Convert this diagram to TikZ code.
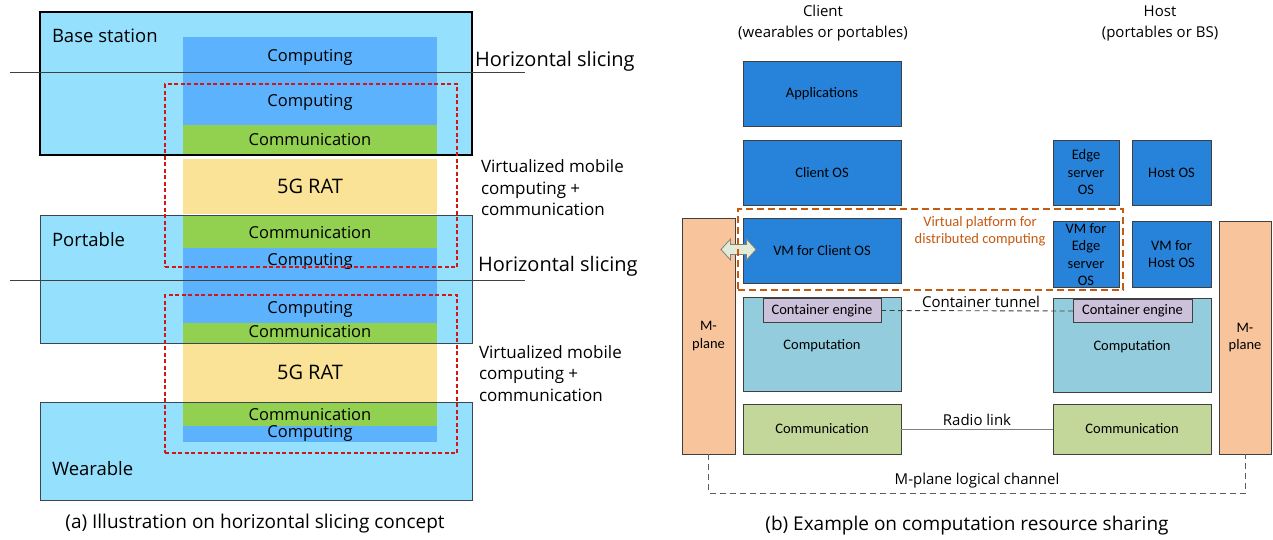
\documentclass[tikz,border=0pt]{standalone}
\usepackage{fontspec}
\setmainfont{Open Sans}
\newfontfamily\calib{Carlito}
\definecolor{tier}{HTML}{95E1FD}
\definecolor{tierbd}{HTML}{3A4655}
\definecolor{compblue}{HTML}{5CB2FC}
\definecolor{commgreen}{HTML}{92D050}
\definecolor{ratyellow}{HTML}{FAE396}
\definecolor{slicered}{HTML}{D01818}
\definecolor{osblue}{HTML}{2683D9}
\definecolor{edgegray}{HTML}{404040}
\definecolor{compcyan}{HTML}{93CDDD}
\definecolor{cepurple}{HTML}{CCC1DA}
\definecolor{commolive}{HTML}{C4D79B}
\definecolor{mpeach}{HTML}{F8C49C}
\definecolor{vporange}{HTML}{C55A11}
\definecolor{arrowfill}{HTML}{E2EBD6}
\begin{document}
\begin{tikzpicture}[x=1pt,y=-1pt,
 every node/.style={inner sep=0pt,outer sep=0pt},
 tierfill/.style={fill=tier,minimum width=432pt},
 colblk/.style={minimum width=254pt},
 ltxt/.style={font=\fontsize{16.5}{19}\selectfont},
 rattxt/.style={font=\fontsize{20}{24}\selectfont},
 tiertxt/.style={font=\fontsize{18.5}{22}\selectfont,anchor=west},
 slicetxt/.style={font=\fontsize{20}{24}\selectfont,anchor=west},
 virttxt/.style={font=\fontsize{17}{21.5}\selectfont,anchor=west,align=left},
 captxt/.style={font=\fontsize{19}{22}\selectfont},
 redbox/.style={draw=slicered,line width=1.3pt,dash pattern=on 4pt off 2.5pt},
 sliceline/.style={draw=edgegray,line width=0.9pt},
 hdrtxt/.style={font=\fontsize{15}{21}\selectfont,align=center},
 rlbl/.style={font=\fontsize{15}{18}\selectfont},
 boxtxt/.style={font=\calib\fontsize{14.5}{17.5}\selectfont,align=center},
 osbox/.style={boxtxt,draw=edgegray,fill=osblue,line width=0.8pt},
 cpbox/.style={boxtxt,draw=edgegray,fill=compcyan,line width=0.8pt,minimum width=158pt,minimum height=94pt},
 cebox/.style={boxtxt,draw=edgegray,fill=cepurple,line width=0.8pt,minimum height=23.5pt},
 cmbox/.style={boxtxt,draw=edgegray,fill=commolive,line width=0.8pt,minimum width=158pt,minimum height=50pt},
 mpbox/.style={boxtxt,draw=edgegray,fill=mpeach,line width=0.8pt},
 vpbox/.style={draw=vporange,line width=1.2pt,dash pattern=on 7pt off 4pt},
 tunnel/.style={draw=edgegray,line width=0.9pt,dash pattern=on 5pt off 3.5pt},
 radio/.style={draw=gray,line width=0.9pt},
 mchan/.style={draw=edgegray!85,line width=0.9pt,dash pattern=on 6pt off 4pt}
]
\useasboundingbox (0,0) rectangle (1273,539);

% ---------------- (a) horizontal slicing ----------------
\node[tierfill,minimum height=143pt] (bs) at (256,83.5) {};
\node[tierfill,minimum height=128pt] (pt) at (256,279) {};
\node[tierfill,minimum height=98pt] (wr) at (256,451) {};

\node[colblk,fill=compblue,minimum height=88pt] (cpa) at (310,81) {};
\node[colblk,fill=commgreen,minimum height=30pt] (cma) at (310,140) {};
\node[colblk,fill=ratyellow,minimum height=55pt] (rta) at (310,186.5) {};
\node[colblk,fill=commgreen,minimum height=33pt] (cmb) at (310,231.5) {};
\node[colblk,fill=compblue,minimum height=75pt] (cpb) at (310,285.5) {};
\node[colblk,fill=commgreen,minimum height=20pt] (cmc) at (310,333) {};
\node[colblk,fill=ratyellow,minimum height=59pt] (rtb) at (310,372.5) {};
\node[colblk,fill=commgreen,minimum height=24pt] (cmd) at (310,414) {};
\node[colblk,fill=compblue,minimum height=16pt] (cpc) at (310,434) {};

\draw[black,line width=1.5pt] (bs.north west) rectangle (bs.south east);
\draw[tierbd,line width=1pt] (pt.north west) rectangle (pt.south east);
\draw[tierbd,line width=1pt] (wr.north west) rectangle (wr.south east);

\node[ltxt] (ta1) at (310,57.5) {Computing};
\node[ltxt] (ta2) at (310,102.5) {Computing};
\node[ltxt] (ta3) at (310,140) {Communication};
\node[rattxt] (ta4) at (310,186.5) {5G RAT};
\node[ltxt] (ta5) at (310,233) {Communication};
\node[ltxt] (ta6) at (310,261.5) {Computing};
\node[ltxt] (ta7) at (310,309.5) {Computing};
\node[ltxt] (ta8) at (310,332) {Communication};
\node[rattxt] (ta9) at (310,372.5) {5G RAT};
\node[ltxt] (ta10) at (310,415) {Communication};
\node[ltxt] (ta11) at (310,433.5) {Computing};

\node[redbox,minimum width=292pt,minimum height=183pt] (vs1) at (311,175.5) {};
\node[redbox,minimum width=292pt,minimum height=158pt] (vs2) at (311,374) {};

\coordinate (sl1a) at (10,72);
\coordinate (sl1b) at (525,72);
\coordinate (sl2a) at (10,280);
\coordinate (sl2b) at (525,280);
\draw[sliceline] (sl1a) -- (sl1b);
\draw[sliceline] (sl2a) -- (sl2b);

\node[tiertxt] (lbs) at (52,35.5) {Base station};
\node[tiertxt] (lpt) at (52,239.5) {Portable};
\node[tiertxt] (lwr) at (52,468.5) {Wearable};

\node[slicetxt] (hs1) at (475,61.5) {Horizontal slicing};
\node[slicetxt] (hs2) at (478,266.5) {Horizontal slicing};

\node[virttxt] (vm1) at (481,188) {Virtualized mobile\\computing +\\communication};
\node[virttxt] (vm2) at (479,373.5) {Virtualized mobile\\computing +\\communication};

\node[captxt] (capa) at (255,524) {(a) Illustration on horizontal slicing concept};

% ---------------- (b) computation resource sharing ----------------
\node[hdrtxt] (hc) at (823,23) {Client\\(wearables or portables)};
\node[hdrtxt] (hh) at (1160,23) {Host\\(portables or BS)};

\node[mpbox,minimum width=53pt,minimum height=236pt] (mpl) at (708.5,336) {M-\\plane};
\node[mpbox,minimum width=52pt,minimum height=233pt] (mpr) at (1245,337.5) {M-\\plane};

\node[osbox,minimum width=158pt,minimum height=65pt] (app) at (822,93.5) {Applications};
\node[osbox,minimum width=158pt,minimum height=65pt] (cos) at (822,172.5) {Client OS};
\node[osbox,minimum width=158pt,minimum height=65pt] (vmc) at (822,250.5) {VM for Client OS};
\node[osbox,minimum width=66pt,minimum height=65pt] (eos) at (1086,172.5) {Edge\\server\\OS};
\node[osbox,minimum width=79pt,minimum height=65pt] (hos) at (1171.5,172.5) {Host OS};
\node[osbox,minimum width=66pt,minimum height=66pt] (vme) at (1086,254) {};
\node[boxtxt] (vmet) at (1086,254.5) {VM for\\Edge\\server\\OS};
\node[osbox,minimum width=79pt,minimum height=66pt] (vmh) at (1171.5,254) {VM for\\Host OS};

\draw[draw=gray,fill=arrowfill,line width=0.8pt]
  (721,249.5) -- (730.5,239) -- (730.5,244.5) -- (746.5,244.5) -- (746.5,239)
  -- (756,249.5) -- (746.5,260) -- (746.5,254.5) -- (730.5,254.5) -- (730.5,260) -- cycle;

\node[vpbox,minimum width=385pt,minimum height=81pt] (vp) at (930.5,249.5) {};
\node[boxtxt,text=vporange] (vpt) at (980,231) {Virtual platform for\\distributed computing};

\node[cpbox] (cpcl) at (822,344) {};
\node[boxtxt] (cpclt) at (822,345.5) {Computation};
\node[cpbox] (cphs) at (1132,345) {};
\node[boxtxt] (cphst) at (1132,346.5) {Computation};
\node[cebox,minimum width=118pt] (cecl) at (822,310.5) {Container engine};
\node[cebox,minimum width=119pt] (cehs) at (1132.5,311) {Container engine};
\draw[tunnel] (cecl.east) -- (cehs.west);
\node[rlbl] (tnl) at (981,302) {Container tunnel};

\node[cmbox] (cmcl) at (822,429) {Communication};
\node[cmbox] (cmhs) at (1132,429) {Communication};
\draw[radio] (cmcl.east) -- (cmhs.west);
\node[rlbl] (rdl) at (977,420) {Radio link};

\coordinate (mch1) at (708.5,493);
\coordinate (mch2) at (1245,493);
\draw[mchan] (mpl.south) -- (mch1) -- (mch2) -- (mpr.south);
\node[rlbl] (mcl) at (977,481) {M-plane logical channel};

\node[captxt] (capb) at (967,526) {(b) Example on computation resource sharing};
\end{tikzpicture}
\end{document}
